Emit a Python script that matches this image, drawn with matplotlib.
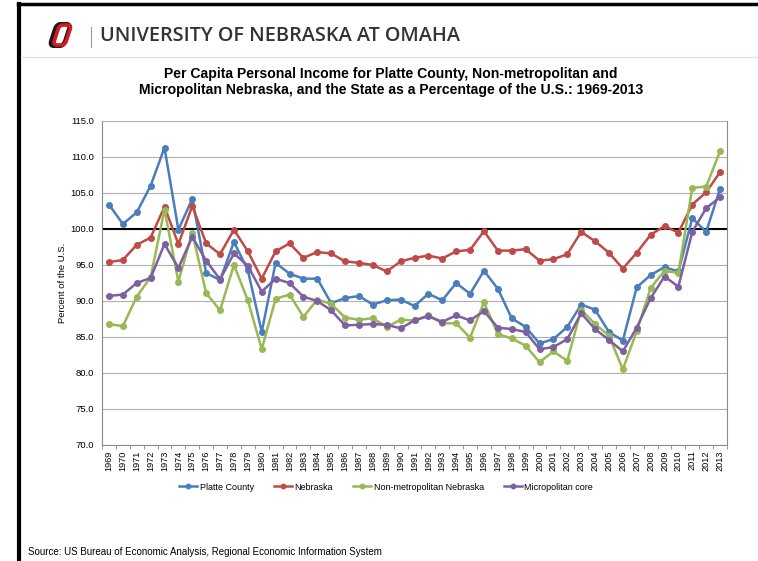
import numpy as np
import matplotlib.pyplot as plt
from matplotlib.patches import FancyBboxPatch
from matplotlib.transforms import Affine2D
from matplotlib.lines import Line2D

plt.rcParams['font.family'] = ['Liberation Sans', 'DejaVu Sans']

# data (percent of U.S. per capita income)
years = [str(y) for y in range(1969, 2014)]
platte = [103.4, 100.7, 102.3, 106.0, 111.3, 99.9, 104.2, 93.9, 92.9, 98.2,
          94.3, 85.7, 95.3, 93.8, 93.1, 93.1, 89.7, 90.4, 90.7, 89.5,
          90.1, 90.2, 89.3, 91.0, 90.1, 92.5, 91.0, 94.2, 91.7, 87.6,
          86.4, 84.1, 84.7, 86.4, 89.5, 88.8, 85.7, 84.5, 91.9, 93.6,
          94.7, 94.1, 101.5, 99.6, 105.6]
nebraska = [95.4, 95.7, 97.8, 98.8, 103.1, 97.9, 103.2, 98.0, 96.5, 99.9,
            96.9, 93.1, 96.9, 98.0, 96.0, 96.8, 96.6, 95.5, 95.3, 95.0,
            94.1, 95.5, 96.0, 96.3, 95.9, 96.9, 97.1, 99.7, 97.0, 97.0,
            97.2, 95.6, 95.8, 96.5, 99.6, 98.3, 96.7, 94.5, 96.7, 99.2,
            100.4, 99.5, 103.4, 105.1, 107.9]
nonmetro = [86.8, 86.5, 90.6, 93.3, 102.7, 92.7, 99.5, 91.1, 88.7, 95.0,
            90.1, 83.3, 90.3, 90.9, 87.8, 90.2, 89.6, 87.7, 87.4, 87.6,
            86.4, 87.4, 87.3, 88.0, 86.9, 86.9, 84.9, 89.8, 85.4, 84.8,
            83.8, 81.5, 83.0, 81.7, 88.8, 86.8, 85.2, 80.5, 85.8, 91.8,
            94.2, 93.9, 105.7, 105.9, 110.8]
micro = [90.7, 90.9, 92.5, 93.2, 97.9, 94.6, 98.9, 95.6, 93.0, 96.6,
         94.9, 91.3, 93.1, 92.5, 90.6, 90.0, 88.7, 86.6, 86.7, 86.8,
         86.7, 86.2, 87.3, 87.9, 87.1, 88.0, 87.3, 88.6, 86.3, 86.1,
         85.7, 83.3, 83.6, 84.7, 88.3, 86.1, 84.6, 83.0, 86.3, 90.4,
         93.4, 92.0, 99.6, 102.9, 104.4]

series = [('Platte County', platte, '#4a7ebb'),
          ('Nebraska', nebraska, '#be4b48'),
          ('Non-metropolitan Nebraska', nonmetro, '#98b954'),
          ('Micropolitan core', micro, '#7d60a0')]

W, H = 758, 561
fig = plt.figure(figsize=(W / 100, H / 100), dpi=100)

def fx(px):
    return px / W

def fy(py):
    return 1 - py / H

# page frame and header
fig.add_artist(Line2D([fx(18), 1], [fy(4), fy(4)], color='black', lw=2.5))
fig.add_artist(Line2D([fx(18.5), fx(18.5)], [0, fy(4)], color='black', lw=3))
fig.add_artist(Line2D([fx(21), 1], [fy(57), fy(57)], color='#f7d9e2', lw=1))
fig.add_artist(Line2D([fx(91), fx(91)], [fy(27), fy(47)], color='#999999', lw=0.8))
fig.text(fx(100), fy(36), 'UNIVERSITY OF NEBRASKA AT OMAHA', fontsize=14.3,
         family='Open Sans', weight='semibold', color='#333333', va='center')

# logo: slanted "O"
lax = fig.add_axes([fx(46), fy(48), fx(38), fy(0) - fy(26)])
lax.set_xlim(0, 38)
lax.set_ylim(0, 26)
lax.axis('off')
skew = Affine2D().skew_deg(18, 0) + lax.transData
outer = FancyBboxPatch((3, 2), 14, 22, boxstyle='round,pad=0,rounding_size=5',
                       fc='none', ec='#1a1a1a', lw=3.2, transform=skew)
inner = FancyBboxPatch((6, 3), 12, 20, boxstyle='round,pad=0,rounding_size=4',
                       fc='none', ec='#d71920', lw=2.6, transform=skew)
lax.add_patch(outer)
lax.add_patch(inner)

# chart
ax = fig.add_axes([fx(102), fy(445), fx(727) - fx(102), fy(121) - fy(445)])
x = np.arange(len(years))
for name, vals, col in series:
    ax.plot(x, vals, color=col, lw=1.8, marker='o', ms=4, label=name)
ax.axhline(100, color='black', lw=1.5, zorder=1.5)

ax.set_xlim(-0.5, len(years) - 0.5)
ax.set_ylim(70, 115)
ax.set_yticks(np.arange(70, 115.1, 5))
ax.set_yticklabels([f'{v:.1f}' for v in np.arange(70, 115.1, 5)], fontsize=6.8)
ax.set_xticks(x)
ax.set_xticklabels(years, rotation=90, fontsize=6.6)
ax.tick_params(axis='x', length=0, pad=4)
ax.set_xticks(np.arange(-0.5, len(years), 1), minor=True)
ax.tick_params(axis='x', which='minor', length=3, color='#888888')
ax.tick_params(axis='y', length=0, pad=6)
ax.grid(axis='y', color='#b0b0b0', lw=0.8)
ax.set_axisbelow(True)
for s in ax.spines.values():
    s.set_color('#8c8c8c')
    s.set_linewidth(0.8)
ax.spines['top'].set_visible(False)
ax.set_ylabel('Percent of the U.S.', fontsize=6.8, labelpad=2)

fig.text(fx(391), fy(82), 'Per Capita Personal Income for Platte County, Non-metropolitan and\n'
         'Micropolitan Nebraska, and the State as a Percentage of the U.S.: 1969-2013',
         ha='center', va='center', fontsize=10.1, weight='bold', linespacing=1.12)

fig.legend(loc='center', bbox_to_anchor=(fx(386), fy(487)), ncol=4, frameon=False,
           fontsize=6.5, handlelength=2.0, handletextpad=0.3, columnspacing=2.2,
           markerscale=0.8)

fig.text(fx(28), fy(552), 'Source: US Bureau of Economic Analysis, Regional Economic Information System',
         fontsize=7, va='center')

fig.savefig('out.png', dpi=100)
